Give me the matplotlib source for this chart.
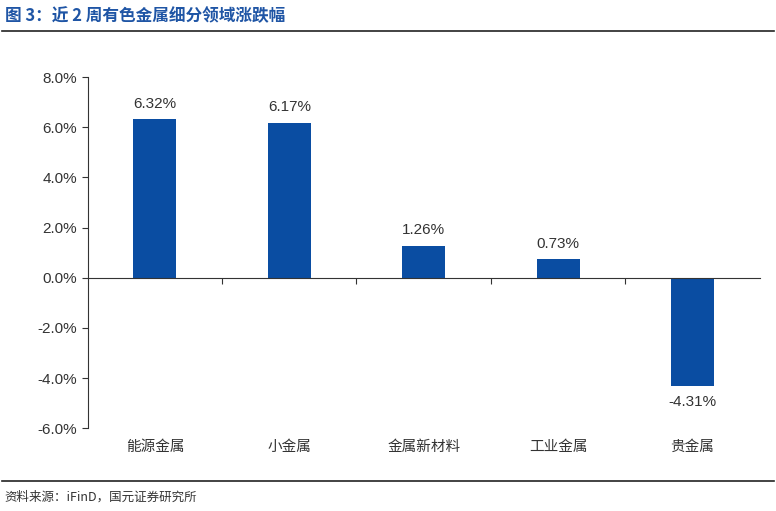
import matplotlib
matplotlib.use("Agg")
import matplotlib.pyplot as plt
from matplotlib.lines import Line2D
import numpy as np

plt.rcParams['font.family'] = ['Noto Sans CJK SC']

categories = ["能源金属", "小金属", "金属新材料", "工业金属", "贵金属"]
values = [6.32, 6.17, 1.26, 0.73, -4.31]
yticks = [-6, -4, -2, 0, 2, 4, 6, 8]

fig = plt.figure(figsize=(7.76, 5.11), dpi=100)
ax = fig.add_axes([0.113, 0.162, 0.866, 0.687])
x = np.arange(len(categories))
ax.bar(x, values, width=0.32, color="#0A4DA2")
ax.set_xlim(-0.5, len(categories) - 0.5)
ax.set_ylim(-6, 8)
ax.set_yticks(yticks)
ax.set_yticklabels([f"{v:.1f}%" for v in yticks], fontsize=11, family="Liberation Sans")
ax.spines['top'].set_visible(False)
ax.spines['right'].set_visible(False)
ax.spines['bottom'].set_position(('data', 0))
ax.spines['left'].set_color('#333333')
ax.spines['bottom'].set_color('#333333')
ax.set_xticks(np.arange(0.5, len(categories) - 0.5, 1))
ax.set_xticklabels([])
ax.tick_params(axis='x', direction='out', length=4, color='#333333')
ax.tick_params(axis='y', direction='out', length=4, color='#333333', labelcolor='#333333')
for xi, v, c in zip(x, values, categories):
    off = 0.35 if v >= 0 else -0.35
    ax.text(xi, v + off, f"{v:.2f}%", ha='center', va='bottom' if v >= 0 else 'top',
            fontsize=11, family="Liberation Sans", color='#333333')
    ax.text(xi, -6.45, c, ha='center', va='top', fontsize=10.5, color='#333333')

fig.text(0.006, 0.968, "图 3：近 2 周有色金属细分领域涨跌幅", fontsize=12, fontweight='bold',
         color='#1F55A5', va='center')
fig.add_artist(Line2D([0.003, 0.997], [0.939, 0.939], color='#222222', lw=1.2))
fig.add_artist(Line2D([0.003, 0.997], [0.058, 0.058], color='#222222', lw=1.2))
fig.text(0.006, 0.027, "资料来源：iFinD，国元证券研究所", fontsize=9, color='#333333', va='center')
fig.savefig("out.png", dpi=100)
